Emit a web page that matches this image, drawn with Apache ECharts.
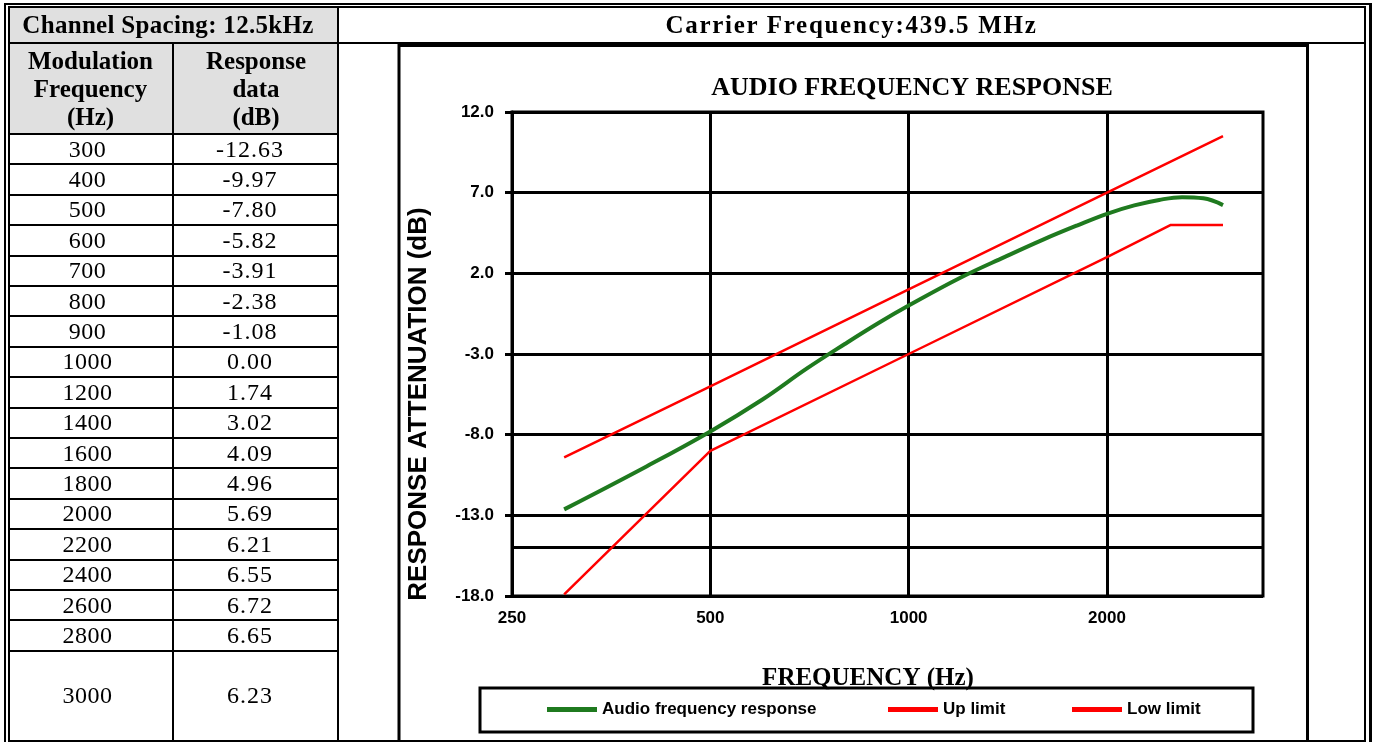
<!DOCTYPE html>
<html><head><meta charset="utf-8">
<script src="https://cdn.jsdelivr.net/npm/echarts@6/dist/echarts.min.js"></script>
<style>
html,body{margin:0;padding:0;background:#fff;width:1376px;height:742px;overflow:hidden;}
#chart{position:absolute;left:0;top:0;width:1376px;height:742px;}
#layout{position:absolute;left:0;top:0;width:1376px;height:742px;pointer-events:none;overflow:hidden;}
.t{position:absolute;display:flex;flex-direction:column;align-items:center;justify-content:center;font-family:'Liberation Serif','Times New Roman',serif;color:#000;white-space:nowrap;text-align:center;}
</style></head><body>
<div id="chart"></div><div id="layout"></div>
<script>
// ---- data ----
const freqHz = [300,400,500,600,700,800,900,1000,1200,1400,1600,1800,2000,2200,2400,2600,2800,3000];
const responseDb = [-12.63,-9.97,-7.80,-5.82,-3.91,-2.38,-1.08,0.00,1.74,3.02,4.09,4.96,5.69,6.21,6.55,6.72,6.65,6.23];
const upLimitHz = [300,500,1000,2000,3000];
const upLimitDb = [-9.4,-5,1,7,10.5];
const lowLimitHz = [300,500,1000,2000,2500,3000];
const lowLimitDb = [-17.9,-9,-3,3,5,5];
const xTickValues = [250,500,1000,2000];
const extraYLine = [-15];
const seriesNames = ['Audio frequency response','Up limit','Low limit'];
const tableTitle = 'Channel Spacing: 12.5kHz';
const chartHeader = 'Carrier Frequency:439.5 MHz';
const chartTitle = 'AUDIO FREQUENCY RESPONSE';
const colHeaders = ['Modulation<br>Frequency<br>(Hz)','Response<br>data<br>(dB)'];

// ---- table layout (HTML) ----
const L = document.getElementById('layout');
function el(x,y,w,h,css,html){
  const d=document.createElement('div');
  d.style.cssText=`position:absolute;left:${x}px;top:${y}px;width:${w}px;height:${h}px;`+(css||'');
  if(html!==undefined){d.className='t';d.innerHTML=html;}
  L.appendChild(d);return d;
}
el(9,8,329,34,'background:#e0e0e0');
el(9,43,329,91,'background:#e0e0e0');
el(9,8,318,34,'font-weight:bold;font-size:25px;letter-spacing:0.3px;',tableTitle);
el(339,8,1025,34,'font-weight:bold;font-size:25px;letter-spacing:1.7px;',chartHeader);
el(9,43,163,91,'font-weight:bold;font-size:25px;line-height:28px;',colHeaders[0]);
el(174,43,164,91,'font-weight:bold;font-size:25px;line-height:28px;',colHeaders[1]);
const rowTop0=134, rowH=30.4;
freqHz.forEach((f,i)=>{
  const top=rowTop0+i*rowH;
  const h=(i===freqHz.length-1)?(740-top):rowH;
  el(9,top,157,h,'font-size:24px;letter-spacing:0.5px;',String(f));
  el(174,top,152,h,'font-size:24px;letter-spacing:1px;',responseDb[i].toFixed(2));
});
for(let i=0;i<freqHz.length;i++){ el(8,rowTop0+i*rowH-1,331,2,'background:#000'); }
el(8,41.5,1358,2.5,'background:#000');
el(172,42,2,699,'background:#000');
el(337,6,2,735,'background:#000');
el(8,6,1358,735.5,'border:2px solid #000;box-sizing:border-box;');
el(3.5,2.7,1368.5,800,'border:2px solid #000;border-right-width:3px;box-sizing:border-box;');

// ---- chart ----
const chart = echarts.init(document.getElementById('chart'));
const tickFont = {fontFamily:'Liberation Sans, Arial, sans-serif', fontWeight:'bold', fontSize:17, color:'#000'};
const legendFont = {fontFamily:'Liberation Sans, Arial, sans-serif', fontWeight:'bold', fontSize:17, color:'#000'};
const legendBase = {padding:0, itemWidth:50, itemHeight:5, icon:'rect', selectedMode:false, top:701, textStyle:legendFont};
const option = {
  animation:false,
  backgroundColor:'#fff',
  grid:{left:512, top:112, width:751, height:484, show:true, borderColor:'#000', borderWidth:3, backgroundColor:'transparent'},
  legend:[
    Object.assign({data:[seriesNames[0]], left:547}, legendBase),
    Object.assign({data:[seriesNames[1]], left:888}, legendBase),
    Object.assign({data:[seriesNames[2]], left:1072}, legendBase)
  ],
  xAxis:{
    type:'log', logBase:2, min:250, max:3450,
    axisLine:{show:false}, axisTick:{show:false}, axisLabel:{show:false}, splitLine:{show:false},
    name:'FREQUENCY (Hz)', nameLocation:'middle', nameGap:70,
    nameTextStyle:{fontFamily:'Liberation Serif', fontWeight:'bold', fontSize:25, color:'#000', padding:[0,39,0,0]}
  },
  yAxis:{
    type:'value', min:-18, max:12, interval:5,
    axisLine:{show:true, lineStyle:{color:'#000', width:3}},
    axisTick:{show:true, length:7, lineStyle:{color:'#000', width:3}},
    axisLabel:Object.assign({margin:18, formatter:v=>v.toFixed(1)}, tickFont),
    splitLine:{show:true, lineStyle:{color:'#000', width:3}},
    name:'RESPONSE ATTENUATION (dB)', nameLocation:'middle', nameGap:80, nameRotate:90,
    nameTextStyle:{fontFamily:'Liberation Sans, Arial, sans-serif', fontWeight:'bold', fontSize:26, color:'#000', padding:[0,100,0,0]}
  },
  graphic:[
    {type:'rect', silent:true, shape:{x:399, y:45.5, width:908.5, height:700}, style:{fill:'none', stroke:'#000', lineWidth:3}},
    {type:'rect', silent:true, shape:{x:480, y:688, width:773, height:44}, style:{fill:'none', stroke:'#000', lineWidth:3}},
    {type:'text', silent:true, x:912, y:88, style:{text:chartTitle, align:'center', verticalAlign:'middle', font:'bold 26px "Liberation Serif"', fill:'#000'}}
  ],
  series:[
    {
      name:seriesNames[0], type:'line', z:10, smooth:0.4, symbol:'none',
      color:'#1f7a1f', lineStyle:{width:4, color:'#1f7a1f'},
      data:freqHz.map((f,i)=>[f,responseDb[i]]),
      markLine:{
        silent:true, symbol:'none', z:1, animation:false,
        lineStyle:{color:'#000', width:3, type:'solid'},
        label:Object.assign({show:true, position:'start', distance:14, formatter:p=>String(p.value)}, tickFont),
        emphasis:{disabled:true},
        data:[].concat(
          xTickValues.map(v=>({xAxis:v})),
          extraYLine.map(v=>({yAxis:v, label:{show:false}}))
        )
      }
    },
    {
      name:seriesNames[1], type:'line', z:10, symbol:'none',
      color:'#ff0000', lineStyle:{width:2.5, color:'#ff0000'},
      data:upLimitHz.map((f,i)=>[f,upLimitDb[i]])
    },
    {
      name:seriesNames[2], type:'line', z:10, symbol:'none',
      color:'#ff0000', lineStyle:{width:2.5, color:'#ff0000'},
      data:lowLimitHz.map((f,i)=>[f,lowLimitDb[i]])
    }
  ]
};
chart.setOption(option);
</script>
</body></html>
